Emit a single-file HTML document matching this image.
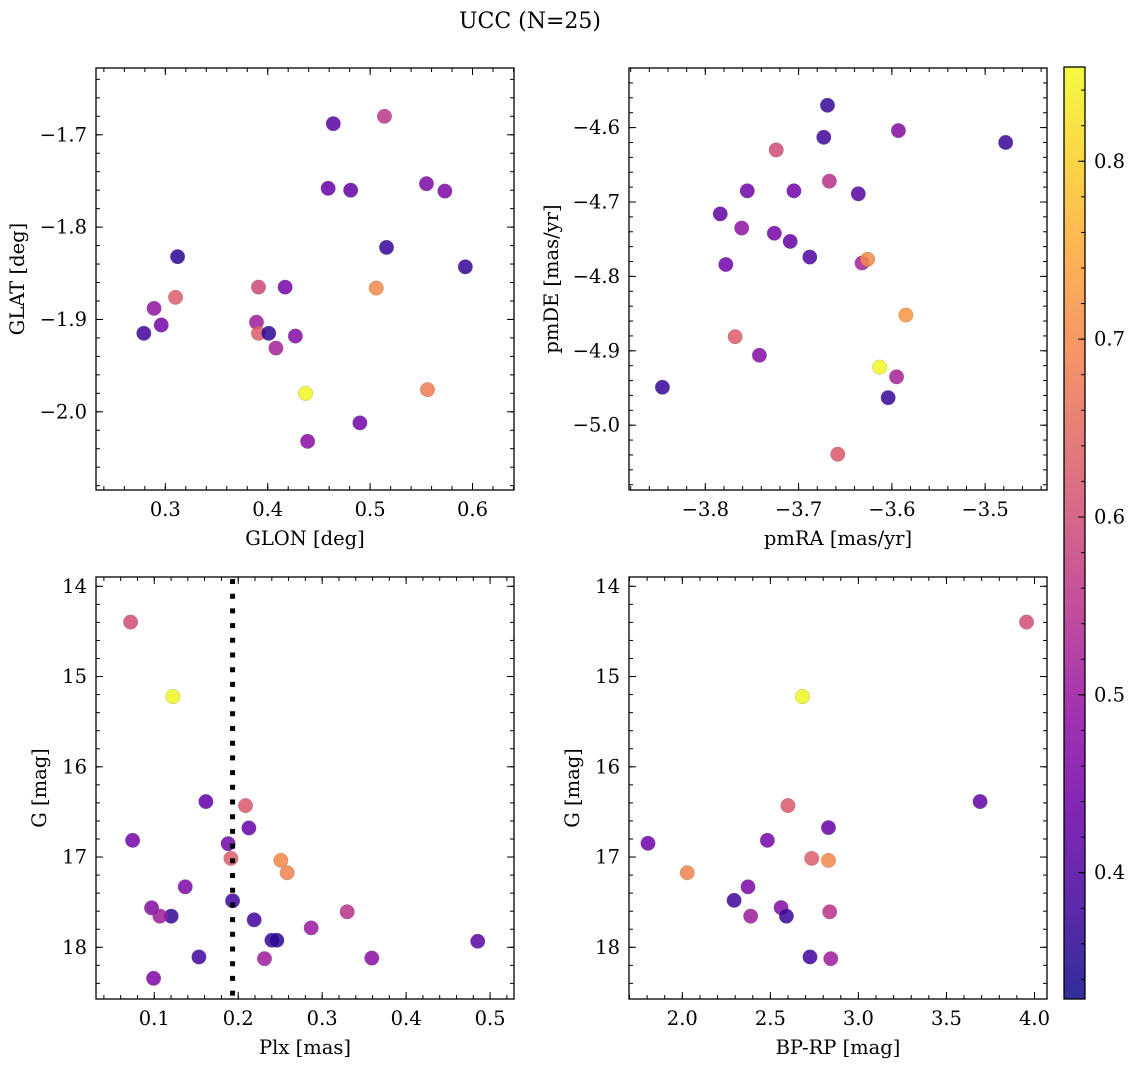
<!DOCTYPE html>
<html><head><meta charset="utf-8"><style>
html,body{margin:0;padding:0;background:#fff}
svg{display:block;font-family:"DejaVu Serif","Liberation Serif",serif}
</style></head><body>
<svg id="fig" width="1136" height="1067" viewBox="0 0 1136 1067" xmlns="http://www.w3.org/2000/svg">
<defs><linearGradient id="cbgrad" x1="0" y1="1" x2="0" y2="0"></linearGradient></defs>
<text x="530" y="28" font-size="22" text-anchor="middle">UCC (N=25)</text>
</svg>
<script>
// Panel 1: GLON / GLAT
const glonX=[0.464,0.514,0.459,0.481,0.555,0.573,0.516,0.593,0.312,0.391,0.417,0.506,0.310,0.289,0.296,0.279,0.389,0.391,0.401,0.427,0.408,0.437,0.556,0.490,0.439];
const glatY=[-1.688,-1.680,-1.758,-1.760,-1.753,-1.761,-1.822,-1.843,-1.832,-1.865,-1.865,-1.866,-1.876,-1.888,-1.906,-1.915,-1.903,-1.915,-1.915,-1.918,-1.931,-1.980,-1.976,-2.012,-2.032];
const p1C=[0.41,0.56,0.43,0.42,0.46,0.46,0.37,0.37,0.36,0.59,0.45,0.70,0.63,0.49,0.45,0.38,0.51,0.63,0.36,0.47,0.52,0.85,0.68,0.44,0.48];
// Panel 2: pmRA / pmDE
const pmraX=[-3.669,-3.673,-3.593,-3.478,-3.724,-3.667,-3.755,-3.705,-3.636,-3.784,-3.761,-3.726,-3.709,-3.688,-3.778,-3.632,-3.626,-3.585,-3.768,-3.742,-3.613,-3.595,-3.846,-3.604,-3.658];
const pmdeY=[-4.570,-4.613,-4.604,-4.620,-4.630,-4.672,-4.685,-4.685,-4.689,-4.716,-4.735,-4.742,-4.753,-4.774,-4.784,-4.782,-4.777,-4.852,-4.881,-4.906,-4.922,-4.935,-4.949,-4.963,-5.039];
const p2C=[0.37,0.38,0.47,0.37,0.60,0.55,0.44,0.44,0.41,0.42,0.49,0.45,0.43,0.40,0.44,0.52,0.70,0.72,0.63,0.47,0.85,0.52,0.37,0.37,0.62];
// Panel 3: Plx / G
const plxX=[0.0718,0.1222,0.1615,0.2087,0.2127,0.0742,0.188,0.1913,0.2508,0.2583,0.1369,0.1933,0.0968,0.1202,0.1067,0.3298,0.219,0.2869,0.2401,0.246,0.4853,0.1532,0.2313,0.3591,0.0992];
const p3G=[14.396,15.222,16.385,16.43,16.678,16.815,16.852,17.015,17.037,17.174,17.33,17.485,17.563,17.655,17.655,17.607,17.696,17.785,17.922,17.922,17.933,18.107,18.126,18.119,18.344];
const p3C=[0.60,0.85,0.42,0.62,0.43,0.45,0.44,0.63,0.70,0.69,0.46,0.38,0.47,0.37,0.51,0.55,0.38,0.50,0.37,0.36,0.41,0.38,0.51,0.48,0.46];
const plxLine=[0.1933];
// Panel 4: BP-RP / G
const bprpX=[3.955,2.682,3.691,2.600,2.830,1.805,2.483,2.735,2.830,2.028,2.373,2.294,2.561,2.591,2.388,2.837,2.725,2.843];
const p4G=[14.396,15.222,16.385,16.43,16.674,16.848,16.815,17.015,17.037,17.174,17.33,17.48,17.56,17.655,17.655,17.607,18.107,18.126];
const p4C=[0.60,0.85,0.42,0.62,0.43,0.44,0.45,0.63,0.70,0.69,0.46,0.38,0.47,0.37,0.51,0.55,0.38,0.51];
// Colorbar
const cbMin=0.329, cbMax=0.853;
const cbTicks=[0.4,0.5,0.6,0.7,0.8];

const FS=19.5;
const NS="http://www.w3.org/2000/svg";
const svg=document.getElementById('fig');
function mk(tag,attrs,parent){const e=document.createElementNS(NS,tag);for(const k in attrs)e.setAttribute(k,attrs[k]);(parent||svg).appendChild(e);return e;}
const stops=[[13,8,135],[65,4,157],[106,0,168],[143,13,164],[177,42,144],[204,71,120],[225,100,98],[242,132,75],[252,166,54],[252,206,37],[240,249,33]];
function plasma(v){let t=(v-cbMin)/(cbMax-cbMin);t=Math.max(0,Math.min(1,t));const f=t*10,i=Math.min(9,Math.floor(f)),r=f-i;const a=stops[i],b=stops[i+1];return 'rgb('+a.map((c,j)=>Math.round(c+(b[j]-c)*r)).join(',')+')';}
function fmt(v,d){const s=Math.abs(v).toFixed(d);return (v<-1e-9?'\u2212':'')+s;}

function panel(name,box,xd,yd,xMaj,xMin,yMaj,yMin,xdec,ydec,xlabel,ylabel,ylabX,xs,ys,cs){
  const [L,T,R,B]=box;
  const g=mk('g',{});
  
  
  const sx=v=>L+(v-xd[0])/(xd[1]-xd[0])*(R-L);
  const sy=v=>T+(v-yd[0])/(yd[1]-yd[0])*(B-T);
  const pts=mk('g',{},g);
  
  
  for(let i=0;i<xs.length;i++){
    const c=mk('circle',{cx:sx(xs[i]),cy:sy(ys[i]),r:7.3,fill:plasma(cs[i]),'fill-opacity':0.85,stroke:'#777','stroke-width':0.4,'stroke-opacity':0.6},pts);
    
    
  }
  mk('rect',{x:L,y:T,width:R-L,height:B-T,fill:'none',stroke:'#000','stroke-width':1.3},g);
  const tk=mk('g',{stroke:'#000','stroke-width':1},g);
  function xt(v,len){const x=sx(v);if(x<L-0.5||x>R+0.5)return;mk('line',{x1:x,y1:B,x2:x,y2:B-len},tk);mk('line',{x1:x,y1:T,x2:x,y2:T+len},tk);}
  function yt(v,len){const y=sy(v);if(y<T-0.5||y>B+0.5)return;mk('line',{x1:L,y1:y,x2:L+len,y2:y},tk);mk('line',{x1:R,y1:y,x2:R-len,y2:y},tk);}
  const s0=Math.ceil(xd[0]/xMin-1e-6),s1=Math.floor(xd[1]/xMin+1e-6);
  for(let k=s0;k<=s1;k++)xt(k*xMin,4);
  const t0=Math.ceil(Math.min(...yd)/yMin-1e-6),t1=Math.floor(Math.max(...yd)/yMin+1e-6);
  for(let k=t0;k<=t1;k++)yt(k*yMin,4);
  xMaj.forEach(v=>{xt(v,7);const t=mk('text',{x:sx(v),y:B+26,'font-size':FS,'text-anchor':'middle'},g);t.textContent=fmt(v,xdec);});
  yMaj.forEach(v=>{yt(v,7);const t=mk('text',{x:L-9,y:sy(v)+6.5,'font-size':FS,'text-anchor':'end'},g);t.textContent=fmt(v,ydec);});
  const xl=mk('text',{x:(L+R)/2,y:B+55,'font-size':FS,'text-anchor':'middle'},g);xl.textContent=xlabel;
  
  
  const yc=(T+B)/2;
  const yl=mk('text',{x:ylabX,y:yc,'font-size':FS,'text-anchor':'middle',transform:'rotate(-90 '+ylabX+' '+yc+')'},g);yl.textContent=ylabel;
  
  
  return {sx,sy,g};
}

panel('panel-glon-glat',[96,68,514,490],[0.2323,0.6405],[-1.6277,-2.0847],[0.3,0.4,0.5,0.6],0.02,[-1.7,-1.8,-1.9,-2.0],0.02,1,1,'GLON [deg]','GLAT [deg]',24,glonX,glatY,p1C);
panel('panel-pm',[629,68,1047,490],[-3.8818,-3.4337],[-4.5199,-5.0871],[-3.8,-3.7,-3.6,-3.5],0.02,[-4.6,-4.7,-4.8,-4.9,-5.0],0.02,1,1,'pmRA [mas/yr]','pmDE [mas/yr]',558,pmraX,pmdeY,p2C);
const p3=panel('panel-plx-g',[96,577,514,999],[0.0306,0.5285],[13.897,18.573],[0.1,0.2,0.3,0.4,0.5],0.02,[14,15,16,17,18],0.2,1,0,'Plx [mas]','G [mag]',46,plxX,p3G,p3C);
const dl=mk('line',{x1:p3.sx(plxLine[0]),y1:579,x2:p3.sx(plxLine[0]),y2:999,stroke:'#000','stroke-width':5,'stroke-dasharray':'5 9.7'});


panel('panel-color-mag',[629,577,1047,999],[1.6972,4.0710],[13.897,18.573],[2.0,2.5,3.0,3.5,4.0],0.1,[14,15,16,17,18],0.2,1,0,'BP-RP [mag]','G [mag]',579,bprpX,p4G,p4C);

// colorbar
const grad=document.getElementById('cbgrad');
for(let i=0;i<=20;i++){const v=cbMin+(cbMax-cbMin)*i/20;mk('stop',{offset:(i*5)+'%','stop-color':plasma(v),'stop-opacity':0.85},grad);}
const CL=1064,CR=1085,CT=67,CB=999;
const cb=mk('g',{});


mk('rect',{x:CL,y:CT,width:CR-CL,height:CB-CT,fill:'url(#cbgrad)',stroke:'#000','stroke-width':1.3},cb);
const cy=v=>CB-(v-cbMin)/(cbMax-cbMin)*(CB-CT);
for(let k=Math.ceil(cbMin/0.02);k<=Math.floor(cbMax/0.02);k++){const y=cy(k*0.02);mk('line',{x1:CR,y1:y,x2:CR-4,y2:y,stroke:'#000'},cb);}
cbTicks.forEach(v=>{const y=cy(v);mk('line',{x1:CR,y1:y,x2:CR-7,y2:y,stroke:'#000'},cb);const t=mk('text',{x:CR+9,y:y+6.5,'font-size':FS},cb);t.textContent=v.toFixed(1);});
</script>
</body></html>
